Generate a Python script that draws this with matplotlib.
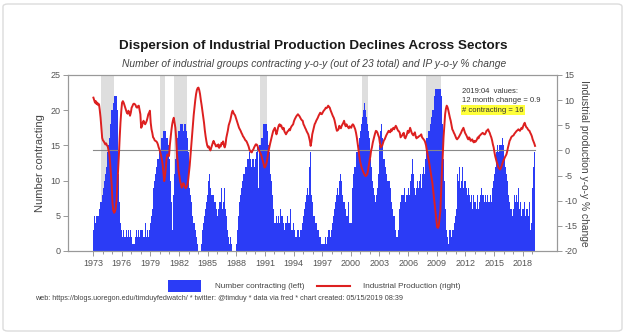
import matplotlib
matplotlib.use('Agg')
import matplotlib.pyplot as plt
import numpy as np
from matplotlib.patches import Rectangle, FancyBboxPatch
from matplotlib.lines import Line2D

start_year = 1973

# number of industrial groups contracting y-o-y (monthly, Jan 1973 - Apr 2019)
contracting = (
    [3,5,5,4,5,5,5,6,6,7,7,8] +            # 1973
    [8,9,10,11,12,13,14,15,16,18,19,20] +  # 1974
    [20,21,22,22,22,22,20,16,11,7,4,3] +   # 1975
    [2,2,3,2,2,4,3,2,3,2,2,3] +            # 1976
    [2,1,1,1,1,2,3,2,2,3,2,3] +            # 1977
    [3,2,3,2,2,4,3,2,3,2,3,3] +            # 1978
    [4,5,6,8,9,10,11,12,12,13,13,14] +     # 1979
    [14,15,16,16,17,17,18,17,16,16,15,15] +  # 1980
    [13,10,7,3,4,8,11,13,14,15,16,17] +    # 1981
    [17,18,18,18,18,17,18,18,18,17,16,14] +  # 1982
    [10,9,8,7,6,5,4,4,3,2,2,1] +           # 1983
    [0,0,0,0,1,3,4,4,5,6,7,8] +            # 1984
    [9,10,11,9,8,9,8,8,7,7,6,6] +          # 1985
    [5,6,7,6,7,9,6,7,8,9,6,5] +            # 1986
    [5,3,2,1,2,1,1,0,0,0,0,0] +            # 1987
    [1,3,5,6,7,8,9,10,10,11,11,12] +       # 1988
    [12,12,13,13,14,13,14,12,13,13,12,13] +  # 1989
    [13,14,15,9,14,15,15,16,16,17,18,18] +   # 1990
    [18,19,18,17,15,14,12,11,10,8,6,5] +   # 1991
    [4,4,5,4,8,5,4,6,5,4,5,4] +            # 1992
    [3,4,8,4,5,4,4,3,6,3,3,4] +            # 1993
    [2,3,2,2,3,2,3,2,3,3,4,4] +            # 1994
    [5,6,7,7,8,9,8,9,12,14,8,7] +          # 1995
    [6,5,5,4,4,3,3,3,2,2,1,1] +            # 1996
    [1,1,1,1,2,1,2,3,3,3,2,3] +            # 1997
    [4,5,5,6,7,8,9,9,8,10,10,11] +         # 1998
    [10,8,7,6,7,6,5,5,6,7,4,4] +           # 1999
    [4,6,9,11,12,12,13,14,14,15,16,16] +   # 2000
    [17,18,19,20,21,21,20,19,18,17,17,16] +  # 2001
    [13,12,11,10,9,8,7,7,8,9,11,13] +      # 2002
    [15,17,18,16,14,13,13,12,11,11,10,10] +  # 2003
    [10,9,8,7,6,5,5,4,3,2,2,3] +           # 2004
    [4,6,7,8,8,9,8,9,7,8,9,8] +            # 2005
    [9,8,10,9,11,13,11,10,9,8,9,10] +      # 2006
    [11,9,10,11,9,10,11,12,11,13,15,16] +  # 2007
    [16,17,17,18,18,19,20,20,21,22,23,23] +  # 2008
    [23,23,23,23,23,22,21,18,13,10,6,4] +  # 2009
    [3,2,1,3,2,3,2,3,4,3,4,5] +            # 2010
    [6,9,11,10,12,9,11,10,12,9,10,11] +    # 2011
    [10,9,8,9,7,8,7,8,6,7,8,7] +           # 2012
    [7,6,7,8,6,7,8,7,9,8,8,7] +            # 2013
    [7,8,7,8,7,6,7,8,7,8,9,10] +           # 2014
    [11,12,13,14,15,14,15,14,15,15,16,15] +  # 2015
    [14,13,12,11,10,9,8,7,6,6,5,5] +       # 2016
    [6,8,7,9,8,7,9,6,8,7,5,6] +            # 2017
    [6,5,7,5,6,4,6,5,7,3,5,4] +            # 2018
    [9,12,14,16]                           # 2019
)

# industrial production, y-o-y % change (monthly, Jan 1973 - Apr 2019)
ip_yoy = (
    [10.5,10.0,9.5,9.8,9.2,9.5,9.0,9.2,8.0,6.5,4.5,2.5] +
    [2.0,1.8,1.5,1.2,1.4,1.0,0.8,0.0,-0.8,-2.5,-4.7,-7.0] +
    [-10.5,-12.0,-12.4,-12.2,-11.5,-10.0,-7.0,-4.0,-1.0,2.5,5.5,7.8] +
    [9.5,9.8,9.5,9.0,8.5,8.0,7.5,7.3,7.9,7.5,6.9,7.5] +
    [8.5,8.8,9.2,9.3,9.2,9.0,8.6,8.5,8.8,8.9,8.0,7.2] +
    [4.5,4.8,5.5,5.9,5.5,5.2,5.5,5.9,6.5,7.2,7.5,7.9] +
    [5.5,4.2,3.5,2.6,2.4,2.0,1.9,1.8,1.6,1.2,0.6,0.2] +
    [-0.4,-1.0,-1.8,-2.8,-4.5,-6.1,-5.0,-3.4,-1.5,-0.8,-1.0,-1.1] +
    [1.0,2.6,4.0,5.2,6.0,6.5,5.5,4.5,2.5,-0.8,-2.5,-4.1] +
    [-5.0,-6.1,-6.8,-7.4,-7.0,-6.5,-6.8,-7.2,-7.5,-7.3,-6.8,-6.0] +
    [-4.5,-3.0,-1.0,1.0,3.0,5.0,7.0,8.5,10.0,11.2,12.0,12.4] +
    [12.5,12.0,11.2,10.0,9.0,7.8,6.5,5.5,4.0,2.8,1.8,1.0] +
    [0.6,0.8,0.3,0.0,0.5,1.0,1.5,1.9,1.5,1.2,0.8,1.0] +
    [0.8,1.2,0.5,1.0,0.8,1.5,1.3,1.8,1.0,0.6,1.2,2.5] +
    [3.2,4.0,5.0,5.5,6.0,6.8,7.5,7.9,7.5,7.2,7.0,6.5] +
    [6.0,5.5,5.0,4.5,4.2,3.9,3.5,3.2,2.8,2.6,2.3,2.0] +
    [1.9,1.6,1.2,0.8,0.2,-0.1,-0.3,-0.4,0.0,0.2,0.6,0.9] +
    [1.2,1.2,1.0,0.5,0.0,-0.3,-0.6,-1.0,-1.6,-2.1,-2.8,-3.4] +
    [-3.2,-2.8,-2.2,-1.2,-0.2,0.6,1.3,2.0,2.6,3.3,3.9,4.2] +
    [4.5,3.8,3.2,3.8,4.5,5.0,5.2,4.8,5.0,4.5,4.2,4.5] +
    [3.8,3.5,3.2,3.5,3.8,3.9,4.2,4.0,4.5,4.8,5.0,5.2] +
    [5.8,6.2,6.5,6.8,7.0,7.2,7.0,6.8,6.5,6.2,6.0,5.9] +
    [5.2,4.9,4.5,4.2,3.8,3.5,3.2,2.6,1.9,0.9,1.8,3.2] +
    [3.9,4.5,5.2,5.5,5.9,6.2,6.5,6.9,7.2,7.5,7.3,7.2] +
    [7.5,7.8,8.0,8.2,8.5,8.4,8.6,8.9,8.7,8.5,8.0,7.6] +
    [7.2,6.8,6.5,6.0,5.2,4.5,3.9,4.0,4.2,4.9,4.6,4.4] +
    [4.9,5.2,5.5,5.9,5.2,4.8,5.2,4.9,4.6,4.4,4.8,4.6] +
    [4.5,5.0,5.2,5.0,4.6,4.2,3.5,2.6,1.5,0.3,-1.0,-2.1] +
    [-2.8,-3.4,-3.8,-4.2,-4.6,-4.9,-5.1,-5.0,-4.7,-4.1,-3.0,-2.1] +
    [-1.2,0.0,0.6,1.5,2.2,2.8,3.4,3.9,3.8,3.5,3.0,2.6] +
    [1.5,0.6,0.8,1.0,1.5,2.0,2.2,2.6,3.0,3.3,3.6,3.9] +
    [3.7,3.6,4.2,3.9,4.3,4.5,4.2,4.6,4.9,4.6,4.2,3.9] +
    [3.8,3.5,2.6,2.8,3.0,3.3,3.5,2.6,2.4,2.8,3.2,3.9] +
    [3.5,3.9,4.5,4.0,3.5,3.2,3.0,3.3,3.6,2.8,2.4,2.6] +
    [2.6,2.8,2.9,3.0,3.2,2.6,2.4,2.2,2.0,1.6,1.0,0.0] +
    [-0.8,-1.5,-2.5,-3.5,-4.5,-5.5,-6.5,-8.0,-9.5,-11.0,-12.5,-14.0] +
    [-15.3,-15.4,-15.0,-13.5,-12.0,-8.0,-4.1,-1.0,2.6,5.0,7.2,8.3] +
    [8.9,8.6,8.0,7.2,6.5,5.9,5.0,4.2,3.9,3.5,3.2,2.8] +
    [2.4,2.2,2.4,2.6,2.9,3.2,3.5,3.9,4.2,4.5,4.0,3.5] +
    [3.2,2.9,2.5,2.2,2.6,2.4,1.9,2.0,2.2,1.8,1.6,1.9] +
    [1.7,1.9,2.2,2.6,2.4,2.9,3.0,3.2,3.3,3.5,3.4,3.2] +
    [3.2,3.5,3.9,4.0,4.2,3.8,3.5,3.0,2.6,2.0,1.2,0.6] +
    [-0.4,-1.2,-1.8,-2.4,-2.9,-3.4,-3.6,-3.8,-3.5,-3.1,-2.6,-2.1] +
    [-1.8,-1.4,-1.1,-0.8,-0.2,0.6,1.2,1.9,2.2,2.6,2.8,2.9] +
    [3.0,3.3,3.5,3.7,3.9,4.0,4.2,4.1,3.9,4.2,4.5,4.3] +
    [4.8,5.2,5.5,5.0,4.6,4.5,4.2,4.0,3.9,3.5,3.2,2.8] +
    [2.2,1.8,1.4,0.9]
)

recessions = [(1973.83, 1975.17), (1980.0, 1980.5), (1981.5, 1982.83),
              (1990.5, 1991.17), (2001.17, 2001.83), (2007.92, 2009.42)]
year_ticks = list(range(1973, 2019, 3))
left_ticks = [0, 5, 10, 15, 20, 25]
right_ticks = [-20, -15, -10, -5, 0, 5, 10, 15]

title = "Dispersion of Industrial Production Declines Across Sectors"
subtitle = "Number of industrial groups contracting y-o-y (out of 23 total) and IP y-o-y % change"
footer = ("web: https://blogs.uoregon.edu/timduyfedwatch/ * twitter: @timduy * "
          "data via fred * chart created: 05/15/2019 08:39")

BLUE = '#2b3cf6'
RED = '#dd2020'
GRAY = '#999999'
TXT = '#555555'
FONT = ['Liberation Sans', 'DejaVu Sans']
plt.rcParams['font.family'] = FONT
plt.rcParams['axes.unicode_minus'] = False

n = len(contracting)
dates = start_year + np.arange(n) / 12.0
W, H = 627, 335

fig = plt.figure(figsize=(W / 100, H / 100), dpi=100)
fig.patch.set_facecolor('white')
ax = fig.add_axes([68 / W, 1 - 251 / H, (557 - 68) / W, 176 / H])
ax2 = ax.twinx()

for s, e in recessions:
    ax.axvspan(s, e, color='#dedede', lw=0, zorder=0)
ax.bar(dates, contracting, width=1 / 12, align='edge', color=BLUE, lw=0, zorder=2)

ax2.plot([dates[0], dates[-1] + 1 / 12], [0, 0], color='#8a8a8a', lw=0.8, zorder=1)
ax2.plot(dates + 1 / 24, ip_yoy, color=RED, lw=1.4, zorder=3)

ax.set_xlim(1970.38, 2021.59)
ax.set_ylim(0, 25)
ax2.set_ylim(-20, 15)
ax.set_zorder(0)
ax2.set_zorder(1)
ax2.patch.set_visible(False)

ax.set_xticks(year_ticks)
ax.set_xticklabels([str(y) for y in year_ticks])
ax.set_xticks(range(1973, 2020), minor=True)
ax.set_yticks(left_ticks)
ax2.set_yticks(right_ticks)
for a in (ax, ax2):
    for sp in a.spines.values():
        sp.set_color(GRAY)
        sp.set_linewidth(0.8)
    a.tick_params(which='both', direction='out', color=GRAY, width=0.7,
                  labelsize=6.5, labelcolor=TXT)
    a.tick_params(which='major', length=3.5, pad=2)
    a.tick_params(which='minor', length=2.5)

fig.text(313 / W, 1 - 46 / H, title, ha='center', va='center', fontsize=9.7,
         fontweight='bold', color='#1a1a1a')
fig.text(314 / W, 1 - 64 / H, subtitle, ha='center', va='center', fontsize=7.4,
         style='italic', color='#444444')
fig.text(40 / W, 1 - 163 / H, 'Number contracting', rotation=90, ha='center',
         va='center', fontsize=8, color='#444444')
fig.text(584 / W, 1 - 163 / H, 'Industrial production y-o-y % change', rotation=270,
         ha='center', va='center', fontsize=7.4, color='#444444')

fig.text(462 / W, 1 - 92 / H, '2019:04  values:', fontsize=5.5, color='#333333',
         va='center')
fig.text(462 / W, 1 - 101 / H, '12 month change = 0.9', fontsize=5.5,
         color='#333333', va='center')
fig.text(462 / W, 1 - 110 / H, '# contracting = 16', fontsize=5.5, color='#333333',
         va='center', bbox=dict(facecolor='#ffff3a', edgecolor='none', pad=1.0))

fig.patches.append(Rectangle((168 / W, 1 - 292 / H), 33 / W, 12 / H,
                             transform=fig.transFigure, color=BLUE, lw=0))
fig.text(215 / W, 1 - 286 / H, 'Number contracting (left)', fontsize=5.9,
         color='#444444', va='center')
fig.lines.append(Line2D([317 / W, 350 / W], [1 - 286 / H, 1 - 286 / H],
                        transform=fig.transFigure, color=RED, lw=1.5))
fig.text(363 / W, 1 - 286 / H, 'Industrial Production (right)', fontsize=5.9,
         color='#444444', va='center')
fig.text(35 / W, 1 - 298 / H, footer, fontsize=5.2, color='#444444', va='center')

fig.patches.append(FancyBboxPatch((3 / W, 4 / H), 619 / W, 327 / H,
                                  boxstyle='round,pad=0,rounding_size=0.008',
                                  transform=fig.transFigure, fill=False,
                                  ec='#dcdcdc', lw=1.0))

fig.savefig('out.png', dpi=100, facecolor='white')
